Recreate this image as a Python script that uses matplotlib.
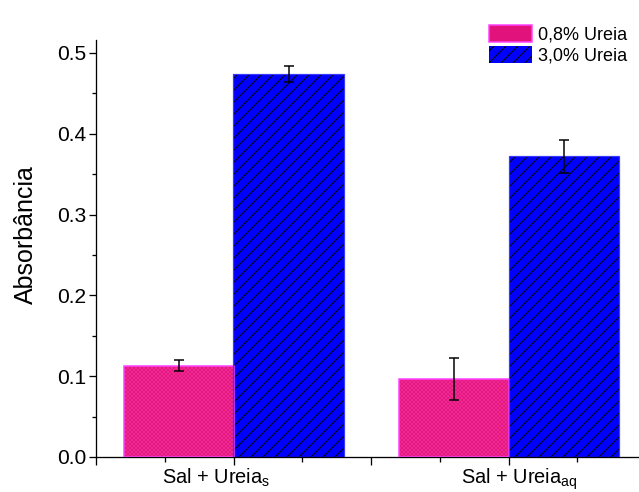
import matplotlib
matplotlib.use("Agg")
import matplotlib.pyplot as plt
import matplotlib.transforms as mtransforms
from matplotlib.patches import Patch
from matplotlib.ticker import MultipleLocator, FixedLocator, FormatStrFormatter
import numpy as np

plt.rcParams['font.family'] = ['Liberation Sans', 'DejaVu Sans']
plt.rcParams['mathtext.fontset'] = 'custom'
plt.rcParams['mathtext.rm'] = 'Liberation Sans'
plt.rcParams['mathtext.it'] = 'Liberation Sans'
plt.rcParams['hatch.linewidth'] = 1.0

# Data
groups = ['Sal + Ureia$_\\mathregular{s}$', 'Sal + Ureia$_\\mathregular{aq}$']
group_pos = [1, 3]
series_names = ['0,8% Ureia', '3,0% Ureia']
low_urea = [0.113, 0.096]
low_urea_err = [0.007, 0.026]
high_urea = [0.474, 0.372]
high_urea_err = [0.010, 0.020]

pink_face = '#E2127C'
pink_hatch = '#EE2A92'
pink_edge = '#FF40FF'
blue_face = '#0000FF'
blue_edge = '#3A3AFF'

DPI = 72
fig = plt.figure(figsize=(639 / DPI, 492 / DPI), dpi=DPI)
ax = fig.add_axes([96 / 639, 35 / 492, 543 / 639, 417 / 492])

width = 0.8
xpos = np.array(group_pos, dtype=float)

# pink bars: textured fill then outline
ax.bar(xpos - width / 2, low_urea, width, color=pink_face, edgecolor=pink_hatch,
       hatch='xxxxxx', linewidth=0, zorder=2)
ax.bar(xpos - width / 2, low_urea, width, facecolor='none', edgecolor=pink_edge,
       linewidth=1.5, zorder=3)
# blue bars: diagonal hatch then outline
ax.bar(xpos + width / 2, high_urea, width, color=blue_face, edgecolor='black',
       hatch='//', linewidth=0, zorder=2)
ax.bar(xpos + width / 2, high_urea, width, facecolor='none', edgecolor=blue_edge,
       linewidth=1.2, zorder=3)

ax.errorbar(xpos - width / 2, low_urea, yerr=low_urea_err, fmt='none', ecolor='black',
            elinewidth=1.5, capsize=5, capthick=1.5, zorder=4)
ax.errorbar(xpos + width / 2, high_urea, yerr=high_urea_err, fmt='none', ecolor='black',
            elinewidth=1.5, capsize=5, capthick=1.5, zorder=4)

ax.set_xlim(0, 543 / 137.5)
ax.set_ylim(0, 0.516)

ax.spines['top'].set_visible(False)
ax.spines['right'].set_visible(False)
for s in ('left', 'bottom'):
    ax.spines[s].set_linewidth(1.3)

ax.yaxis.set_major_locator(MultipleLocator(0.1))
ax.yaxis.set_minor_locator(MultipleLocator(0.05))
ax.yaxis.set_major_formatter(FormatStrFormatter('%.1f'))

ax.xaxis.set_major_locator(FixedLocator([0, 1, 2, 3]))
ax.xaxis.set_minor_locator(FixedLocator([0.5, 1.5, 2.5, 3.5]))
ax.set_xticklabels(['', groups[0], '', groups[1]])

ax.tick_params(axis='y', which='major', direction='out', length=7, width=1.3,
               labelsize=21, pad=3)
ax.tick_params(axis='y', which='minor', direction='out', length=4, width=1.3)
ax.tick_params(axis='x', which='major', direction='out', length=8, width=1.3,
               labelsize=20, pad=2)
ax.tick_params(axis='x', which='minor', direction='out', length=5, width=1.3)

# nudge the group labels horizontally
label_shift_px = {1: -17, 3: 11}
for tick_x, lbl in zip([0, 1, 2, 3], ax.get_xticklabels()):
    dx = label_shift_px.get(tick_x, 0)
    lbl.set_transform(lbl.get_transform() +
                      mtransforms.ScaledTranslation(dx / DPI, 0, fig.dpi_scale_trans))

ax.set_ylabel('Absorbância', fontsize=25)
ax.yaxis.set_label_coords(-58 / 543, (492 - 235 - 35) / 417)

handles = [
    Patch(facecolor=pink_face, edgecolor=pink_edge, linewidth=1.5),
    Patch(facecolor=blue_face, edgecolor='black', hatch='//', linewidth=0),
]
ax.legend(handles, series_names, loc='upper left',
          bbox_to_anchor=(489 / 639, 1 - 25 / 492), bbox_transform=fig.transFigure,
          frameon=False, fontsize=18, handlelength=2.4, handleheight=1.05,
          handletextpad=0.3, labelspacing=0.15, borderpad=0, borderaxespad=0)

fig.savefig('out.png', dpi=DPI)
